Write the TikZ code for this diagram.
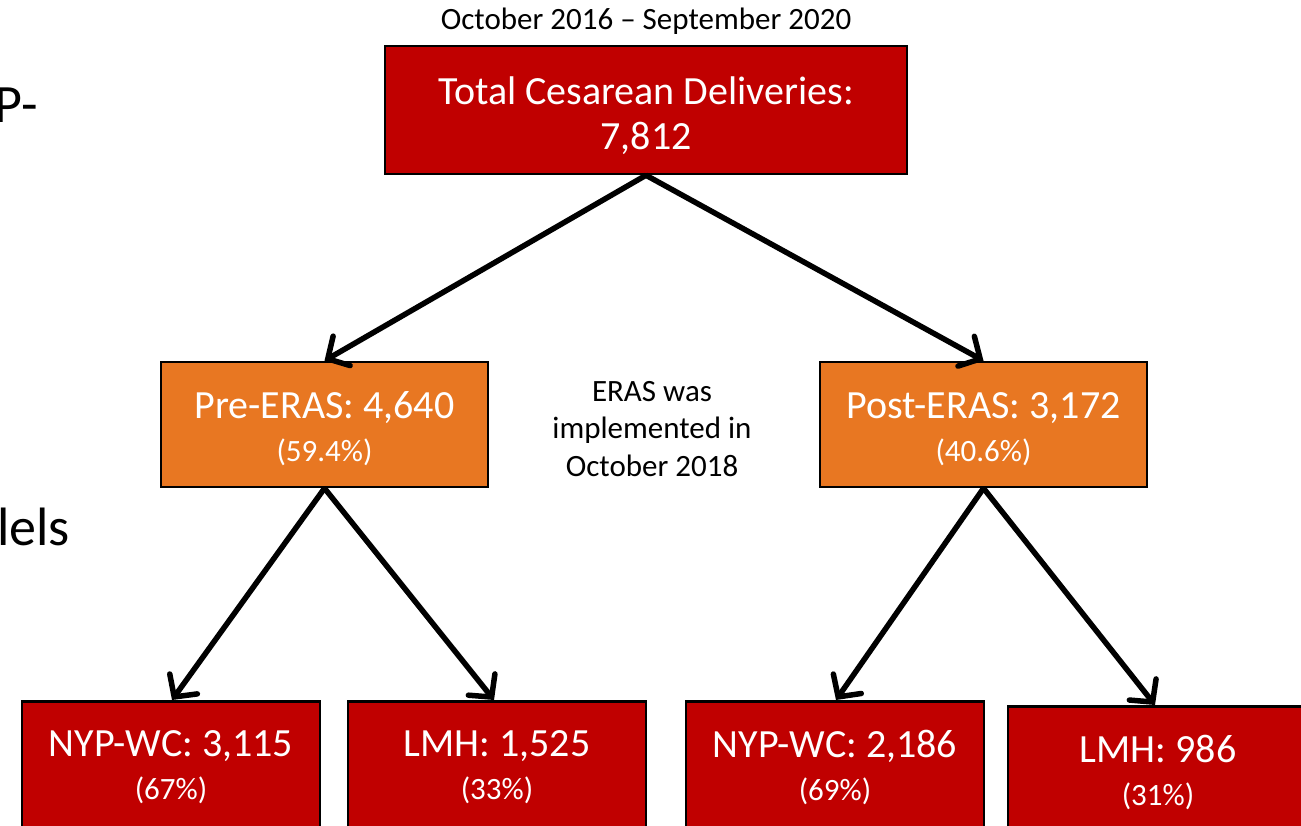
\documentclass[tikz,border=0pt]{standalone}
\usepackage{fontspec}
\setmainfont{Carlito}
\usetikzlibrary{arrows.meta}
\definecolor{boxred}{HTML}{C00000}
\definecolor{boxorange}{HTML}{E87722}
\newcommand{\bigtx}{\fontsize{40}{45}\selectfont}
\newcommand{\smalltx}{\fontsize{31}{43}\selectfont}
\tikzset{
  box/.style={draw=black, line width=2.5pt, text=white, align=center, inner sep=0pt, font=\smalltx},
  redbox/.style={box, fill=boxred},
  orangebox/.style={box, fill=boxorange},
  conn/.style={line width=5.5pt, -{Straight Barb[length=16pt, width=34pt, line width=5.5pt, line cap=round]}},
}
\begin{document}
\begin{tikzpicture}[x=1pt, y=-1pt]
\useasboundingbox (0,0) rectangle (1301,826);
\clip (0,0) rectangle (1301,826);
\fill[white] (0,0) rectangle (1301,826);

% left fragments
\node[anchor=base east, inner sep=0pt, font=\fontsize{54}{60}\selectfont] (frag1) at (38,123) {P-};
\node[anchor=base east, inner sep=0pt, font=\fontsize{54}{60}\selectfont] (frag2) at (70,545) {lels};

% title
\node[inner sep=0pt, font=\fontsize{31}{37}\selectfont] (period) at (646,21) {October 2016 -- September 2020};

% boxes
\node[redbox, minimum width=522pt, minimum height=128pt, font=\bigtx] (total) at (646,110)
  {\rule{0pt}{40pt}Total Cesarean Deliveries:\\7,812};
\node[orangebox, minimum width=327pt, minimum height=125pt] (pre) at (324.5,424.5)
  {{\bigtx\rule{0pt}{36pt}Pre-ERAS: 4,640}\\(59.4\%)};
\node[orangebox, minimum width=327pt, minimum height=125pt] (post) at (983.5,424.5)
  {{\bigtx\rule{0pt}{36pt}Post-ERAS: 3,172}\\(40.6\%)};

\node[inner sep=0pt, align=center, font=\fontsize{31}{37.5}\selectfont] (note) at (652,429)
  {ERAS was\\implemented in\\October 2018};

\node[redbox, minimum width=298pt, minimum height=132pt, anchor=north] (nyp1) at (171,700)
  {{\bigtx NYP-WC: 3,115}\\(67\%)};
\node[redbox, minimum width=298pt, minimum height=132pt, anchor=north] (lmh1) at (497,700)
  {{\bigtx LMH: 1,525}\\(33\%)};
\node[redbox, minimum width=298pt, minimum height=132pt, anchor=north] (nyp2) at (835,700)
  {{\bigtx NYP-WC: 2,186}\\(69\%)};
\node[redbox, minimum width=300pt, minimum height=133pt, anchor=north] (lmh2) at (1158,705)
  {{\bigtx LMH: 986}\\(31\%)};

% connectors
\draw[conn] (total.south) -- (pre.north);
\draw[conn] (total.south) -- (post.north);
\draw[conn] (pre.south) -- ([xshift=1pt]nyp1.north);
\draw[conn] (pre.south) -- ([xshift=-3pt]lmh1.north);
\draw[conn] (post.south) -- ([xshift=1pt]nyp2.north);
\draw[conn] (post.south) -- ([xshift=-3pt]lmh2.north);
\end{tikzpicture}
\end{document}
